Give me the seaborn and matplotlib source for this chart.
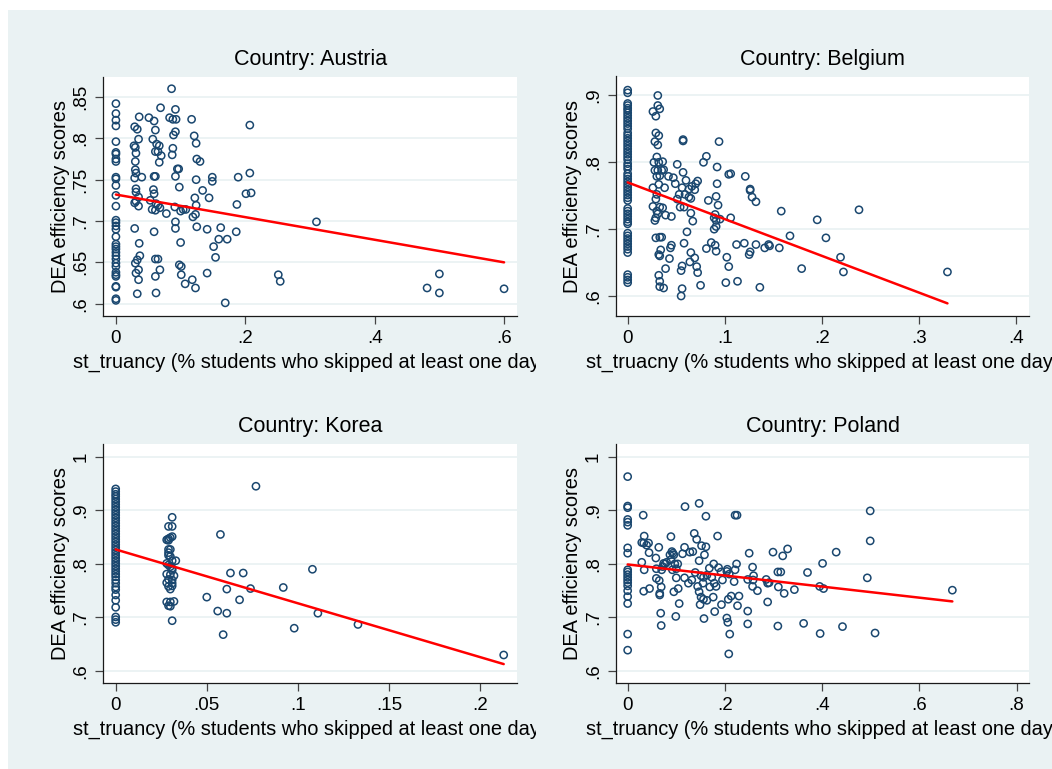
import matplotlib
matplotlib.use("Agg")
import matplotlib.pyplot as plt
import seaborn as sns
from matplotlib.patches import Rectangle
from matplotlib.transforms import Bbox, TransformedBbox

# ---------------- data ----------------
austria_x = [0, 0, 0, 0, 0, 0, 0, 0, 0, 0, 0, 0, 0, 0, 0, 0, 0, 0, 0, 0, 0, 0, 0, 0, 0, 0, 0, 0, 0, 0, 0, 0, 0, 0,
             .029, .033, .036, .035, .028, .030, .031, .030, .030, .031, .029, .040, .031, .031, .035, .029, .031, .035,
             .029, .036, .037, .033, .030, .035, .031, .035, .033,
             .051, .059, .061, .057, .063, .067, .061, .065, .070, .067, .059, .061, .058, .059, .053, .062, .065, .068,
             .056, .061, .059, .061, .065, .068, .061, .062, .069,
             .086, .092, .083, .088, .093, .092, .089, .088, .087, .095, .097, .092, .098, .091, .100, .104, .108, .078,
             .092, .092, .100, .098, .101, .101, .107,
             .117, .121, .124, .125, .130, .124, .122, .124, .119, .123, .125, .118, .123, .141,
             .134, .144, .149, .149, .141, .151, .154, .159, .162, .169, .172, .186, .187, .189, .201, .207, .209, .207,
             .251, .254, .310, .481, .500, .500, .600]
austria_y = [.842, .830, .822, .815, .796, .783, .781, .775, .772, .753, .751, .743, .731, .718, .701, .698, .694, .690,
             .681, .672, .669, .666, .662, .658, .654, .649, .645, .638, .635, .633, .621, .620, .606, .604,
             .814, .811, .826, .799, .791, .789, .782, .772, .762, .758, .752, .753, .739, .735, .729, .722, .724, .718,
             .691, .673, .658, .653, .649, .641, .637, .629, .612,
             .825, .821, .810, .799, .793, .791, .784, .784, .779, .771, .754, .754, .738, .733, .725, .721, .719, .716,
             .714, .713, .687, .654, .654, .641, .633, .613, .837,
             .860, .835, .825, .823, .823, .808, .804, .788, .780, .763, .763, .754, .741, .717, .712, .714, .714, .709,
             .699, .691, .674, .647, .645, .635, .624,
             .823, .803, .794, .775, .772, .750, .728, .719, .705, .708, .693, .629, .619, .637,
             .737, .728, .753, .748, .690, .669, .656, .678, .692, .601, .678, .687, .720, .753, .733, .758, .734, .816,
             .635, .627, .699, .619, .636, .613, .618]

belgium_x = [0, 0, 0, 0, 0, 0, 0, 0, 0, 0, 0, 0, 0, 0, 0, 0, 0, 0, 0, 0, 0, 0, 0, 0, 0, 0, 0, 0, 0, 0, 0, 0, 0, 0, 0, 0,
             0, 0, 0, 0, 0, 0, 0, 0, 0, 0, 0, 0, 0, 0, 0, 0, 0, 0, 0, 0, 0,
             .031, .031, .033, .026, .029, .029, .032, .028, .031, .030, .027, .032, .036, .028, .031, .035, .037, .030,
             .033, .032, .038, .026, .030, .029, .026, .030, .033, .036, .031, .028, .029, .039, .045, .029, .033, .035,
             .034, .032, .033, .032, .033, .033, .037, .039, .043, .045, .044,
             .057, .057, .051, .057, .042, .047, .049, .060, .056, .063, .066, .070, .072, .069, .053, .059, .063, .065,
             .051, .054, .058, .065, .067, .061, .058, .065, .069, .064, .071, .072, .055, .056, .056, .055, .075,
             .078, .081, .092, .094, .083, .091, .093, .090, .089, .091, .095, .106, .089, .091, .081, .086, .090, .091,
             .102, .104, .101, .113, .136, .092, .104, .106, .121, .126, .126, .128, .132, .112, .120, .126, .125, .132,
             .141, .146, .145, .156, .158, .167, .179, .195, .204, .219, .222, .238, .329]
belgium_y = [.908, .904, .888, .885, .881, .878, .874, .870, .866, .862, .858, .854, .850, .844, .840, .836, .832, .828,
             .824, .820, .816, .812, .808, .804, .798, .794, .790, .783, .779, .775, .771, .767, .763, .759, .755, .751,
             .747, .743, .731, .727, .723, .719, .715, .711, .708, .694, .690, .686, .682, .678, .674, .670, .665,
             .632, .628, .624, .620,
             .900, .885, .880, .876, .869, .844, .840, .831, .826, .808, .800, .800, .801, .788, .788, .788, .789, .779,
             .780, .767, .762, .762, .752, .745, .734, .727, .733, .732, .723, .713, .717, .721, .719, .687, .688, .688,
             .669, .662, .660, .631, .622, .614, .612, .641, .656, .676, .672,
             .834, .832, .797, .785, .779, .777, .768, .773, .762, .760, .764, .768, .772, .759, .752, .752, .748, .746,
             .745, .733, .733, .724, .712, .696, .679, .665, .657, .651, .644, .635, .638, .645, .611, .600, .616,
             .800, .809, .793, .831, .743, .749, .736, .722, .717, .713, .715, .717, .700, .704, .671, .680, .676, .667,
             .658, .644, .620, .622, .613, .768, .782, .783, .779, .760, .758, .748, .741, .677, .679, .666, .662, .677,
             .672, .675, .677, .672, .727, .690, .641, .714, .687, .658, .636, .729, .636]

korea_x = [0, 0, 0, 0, 0, 0, 0, 0, 0, 0, 0, 0, 0, 0, 0, 0, 0, 0, 0, 0, 0, 0, 0, 0, 0, 0, 0, 0, 0, 0, 0, 0, 0, 0, 0, 0,
           0, 0, 0, 0, 0, 0, 0, 0,
           .031, .029, .031, .029, .030, .031, .028, .029, .029, .030, .029, .029, .030, .031, .033, .028, .029, .030,
           .031, .031, .028, .030, .032, .029, .031, .028, .031, .029, .031, .030, .028, .030, .032, .029, .030, .031,
           .077, .0575, .063, .070, .061, .050, .068, .074, .056, .061, .059, .092, .098, .108, .111, .133, .213]
korea_y = [.940, .935, .930, .926, .921, .916, .911, .906, .901, .896, .891, .886, .881, .876, .871, .866, .861, .856,
           .851, .846, .841, .836, .831, .826, .821, .816, .811, .806, .801, .796, .791, .786, .781, .776, .770, .764,
           .757, .752, .742, .732, .719, .701, .696, .691,
           .887, .870, .870, .847, .849, .851, .845, .844, .827, .827, .821, .816, .814, .806, .806, .801, .798, .795,
           .792, .788, .781, .780, .778, .771, .770, .765, .764, .758, .759, .753, .729, .729, .730, .722, .721, .694,
           .945, .855, .783, .783, .753, .738, .733, .754, .712, .708, .668, .756, .680, .790, .708, .687, .630]

poland_x = [0, 0, 0, 0, 0, 0, 0, 0, 0, 0, 0, 0, 0, 0, 0, 0, 0, 0, 0, 0,
            .032, .034, .029, .033, .043, .039, .044, .029, .034, .033, .045, .058, .064, .059, .059, .065, .069, .066,
            .066, .068, .069, .072, .074, .077, .080, .070, .089, .091, .093, .095, .087, .089, .097, .103, .092, .100,
            .100, .095, .104, .106, .099, .117, .118, .113, .117, .125, .132, .128, .134, .137, .142, .147, .147, .139,
            .152, .161, .158, .151, .156, .163, .155, .144, .147, .151, .149, .156, .161, .157, .163, .168, .169, .173,
            .177, .178, .182, .176, .185, .187, .192, .195, .204, .205, .209, .193, .179, .213, .207, .221, .224, .221,
            .225, .219, .226, .229, .204, .206, .210, .208, .247, .247, .247, .250, .257, .258, .259, .257, .267, .285,
            .288, .291, .288, .299, .309, .315, .310, .319, .329, .322, .309, .343, .362, .370, .395, .403, .401, .396,
            .429, .442, .493, .499, .499, .509, .668]
poland_y = [.963, .908, .905, .883, .878, .872, .830, .820, .789, .785, .780, .775, .770, .765, .759, .750, .739, .726,
            .669, .639,
            .891, .852, .840, .839, .839, .835, .821, .803, .789, .749, .754, .811, .831, .791, .773, .769, .757, .745,
            .742, .708, .685, .795, .801, .800, .803, .789, .851, .823, .820, .817, .817, .808, .800, .800, .789, .791,
            .774, .748, .754, .726, .702, .831, .907, .819, .774, .764, .770, .822, .823, .857, .846, .913, .806, .784,
            .834, .832, .817, .778, .775, .779, .764, .758, .748, .738, .724, .734, .889, .698, .732, .792, .757, .775,
            .800, .764, .758, .738, .852, .793, .785, .770, .786, .790, .781, .724, .711, .740, .734, .789, .800, .891,
            .891, .767, .722, .740, .699, .691, .669, .632, .712, .688, .771, .820, .794, .770, .778, .758, .750, .771,
            .764, .765, .729, .822, .785, .785, .757, .815, .828, .745, .684, .752, .689, .784, .758, .754, .801, .670,
            .822, .683, .774, .899, .843, .671, .751]

# fitted lines (endpoints at min and max x)
austria_fit_x = [0, .600]
austria_fit_y = [.732, .650]
belgium_fit_x = [0, .329]
belgium_fit_y = [.770, .589]
korea_fit_x = [0, .213]
korea_fit_y = [.827, .613]
poland_fit_x = [0, .668]
poland_fit_y = [.799, .730]

titles = ["Country: Austria", "Country: Belgium", "Country: Korea", "Country: Poland"]
xlabels = ["st_truancy (% students who skipped at least one day)",
           "st_truacny (% students who skipped at least one day)",
           "st_truancy (% students who skipped at least one day)",
           "st_truancy (% students who skipped at least one day)"]
ylabel = "DEA efficiency scores"

austria_xticks = [0, .2, .4, .6]
austria_xticklabels = ["0", ".2", ".4", ".6"]
austria_yticks = [.6, .65, .7, .75, .8, .85]
austria_yticklabels = [".6", ".65", ".7", ".75", ".8", ".85"]
belgium_xticks = [0, .1, .2, .3, .4]
belgium_xticklabels = ["0", ".1", ".2", ".3", ".4"]
belgium_yticks = [.6, .7, .8, .9]
belgium_yticklabels = [".6", ".7", ".8", ".9"]
korea_xticks = [0, .05, .1, .15, .2]
korea_xticklabels = ["0", ".05", ".1", ".15", ".2"]
korea_yticks = [.6, .7, .8, .9, 1]
korea_yticklabels = [".6", ".7", ".8", ".9", "1"]
poland_xticks = [0, .2, .4, .6, .8]
poland_xticklabels = ["0", ".2", ".4", ".6", ".8"]
poland_yticks = [.6, .7, .8, .9, 1]
poland_yticklabels = [".6", ".7", ".8", ".9", "1"]

# ---------------- style ----------------
sns.set_theme(style="white")
plt.rcParams["font.family"] = ["Liberation Sans", "DejaVu Sans"]

W, H = 1052, 769
BG = "#EAF2F3"
NAVY = "#1A476F"

fig = plt.figure(figsize=(W / 100, H / 100), dpi=100, facecolor="white")
fig.patches.append(Rectangle((8 / W, 0), 1 - 8 / W, 1 - 10 / H, transform=fig.transFigure,
                             facecolor=BG, edgecolor="none", zorder=-10))


def px_axes(l, t, r, b):
    return fig.add_axes([l / W, 1 - b / H, (r - l) / W, (b - t) / H])


panels = [
    dict(box=(103.3, 76.5, 517, 316), x=austria_x, y=austria_y, fx=austria_fit_x, fy=austria_fit_y,
         xt=austria_xticks, xtl=austria_xticklabels, yt=austria_yticks, ytl=austria_yticklabels,
         xlim=(-0.0195, 0.620), ylim=(0.5851, 0.8748), clip=536),
    dict(box=(616, 76.5, 1029, 316), x=belgium_x, y=belgium_y, fx=belgium_fit_x, fy=belgium_fit_y,
         xt=belgium_xticks, xtl=belgium_xticklabels, yt=belgium_yticks, ytl=belgium_yticklabels,
         xlim=(-0.012, 0.4129), ylim=(0.5701, 0.9284), clip=W),
    dict(box=(103.3, 443.5, 517, 683), x=korea_x, y=korea_y, fx=korea_fit_x, fy=korea_fit_y,
         xt=korea_xticks, xtl=korea_xticklabels, yt=korea_yticks, ytl=korea_yticklabels,
         xlim=(-0.0068, 0.2203), ylim=(0.5777, 1.0248), clip=536),
    dict(box=(616, 443.5, 1029, 683), x=poland_x, y=poland_y, fx=poland_fit_x, fy=poland_fit_y,
         xt=poland_xticks, xtl=poland_xticklabels, yt=poland_yticks, ytl=poland_yticklabels,
         xlim=(-0.024, 0.8257), ylim=(0.5777, 1.0248), clip=W),
]

for i, p in enumerate(panels):
    ax = px_axes(*p["box"])
    ax.set_facecolor("white")
    sns.scatterplot(x=p["x"], y=p["y"], ax=ax, marker="o", s=27, facecolor="none",
                    edgecolor=NAVY, linewidth=1.1, zorder=3)
    sns.lineplot(x=p["fx"], y=p["fy"], ax=ax, color="red", linewidth=1.8, zorder=4)
    ax.set_xlim(*p["xlim"])
    ax.set_ylim(*p["ylim"])
    ax.set_xticks(p["xt"])
    ax.set_xticklabels(p["xtl"])
    ax.set_yticks(p["yt"])
    ax.set_yticklabels(p["ytl"], rotation=90, va="center")
    ax.yaxis.grid(True, color=BG, linewidth=1.3, zorder=0)
    ax.xaxis.grid(False)
    ax.set_axisbelow(True)
    for side in ("top", "right"):
        ax.spines[side].set_visible(False)
    for side in ("left", "bottom"):
        ax.spines[side].set_color("#1a1a1a")
        ax.spines[side].set_linewidth(0.9)
    ax.tick_params(axis="both", which="major", direction="out", length=6, width=0.9,
                   color="#444444", labelsize=13.5, labelcolor="black", pad=4,
                   left=True, bottom=True)
    ax.set_title(titles[i], fontsize=15.5, color="black", pad=8)
    ax.set_ylabel(ylabel, fontsize=14.4, color="black", labelpad=2)
    ax.set_xlabel(xlabels[i], fontsize=14.4, color="black", labelpad=4)
    lab = ax.xaxis.label
    lab.set_clip_box(TransformedBbox(Bbox([[0, 0], [p["clip"] / W, 1]]), fig.transFigure))
    lab.set_clip_on(True)

fig.savefig("out.png", dpi=100, facecolor="white")
